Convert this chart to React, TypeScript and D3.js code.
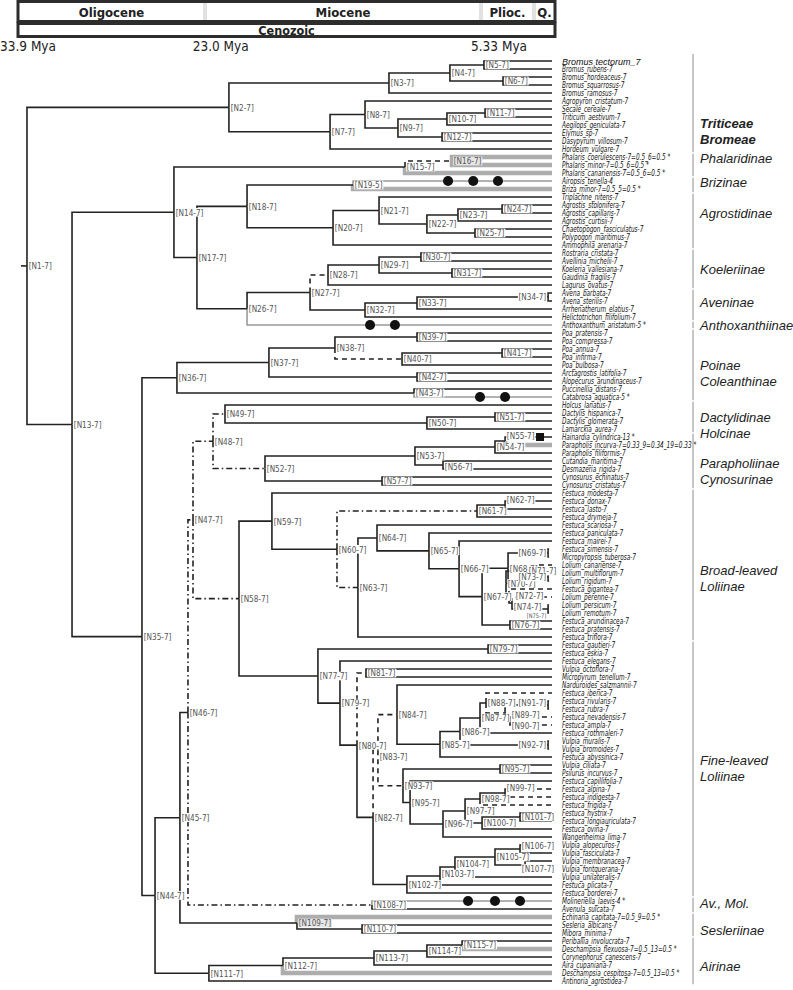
import React from "react";
import * as d3 from "d3";

// ---------- DATA ----------
const epochNames = ["Oligocene", "Miocene", "Plioc.", "Q."];
const epochBounds = [33.9, 23.0, 5.33, 2.58, 0];
const eraName = "Cenozoic";
const timeTicks = [33.9, 23.0, 5.33];

const leafNames = [
  "Bromus tectorum_7", "Bromus_rubens-7", "Bromus_hordeaceus-7", "Bromus_squarrosus-7", "Bromus_ramosus-7",
  "Agropyron_cristatum-7", "Secale_cereale-7", "Triticum_aestivum-7", "Aegilops_geniculata-7", "Elymus_sp-7",
  "Dasypyrum_villosum-7", "Hordeum_vulgare-7", "Phalaris_coerulescens-7=0.5_6=0.5 *", "Phalaris_minor-7=0.5_6=0.5 *",
  "Phalaris_canariensis-7=0.5_6=0.5 *", "Airopsis_tenella-4", "Briza_minor-7=0.5_5=0.5 *", "Triplachne_nitens-7",
  "Agrostis_stolonifera-7", "Agrostis_capillaris-7", "Agrostis_curtisii-7", "Chaetopogon_fasciculatus-7",
  "Polypogon_maritimus-7", "Ammophila_arenaria-7", "Rostraria_cristata-7", "Avellinia_michelii-7",
  "Koeleria_vallesiana-7", "Gaudinia_fragilis-7", "Lagurus_ovatus-7", "Avena_barbata-7", "Avena_sterilis-7",
  "Arrhenatherum_elatius-7", "Helictotrichon_filifolium-7", "Anthoxanthum_aristatum-5 *", "Poa_pratensis-7",
  "Poa_compressa-7", "Poa_annua-7", "Poa_infirma-7", "Poa_bulbosa-7", "Arctagrostis_latifolia-7",
  "Alopecurus_arundinaceus-7", "Puccinellia_distans-7", "Catabrosa_aquatica-5 *", "Holcus_lanatus-7",
  "Dactylis_hispanica-7", "Dactylis_glomerata-7", "Lamarckia_aurea-7", "Hainardia_cylindrica-13 *",
  "Parapholis_incurva-7=0.33_9=0.34_19=0.33 *", "Parapholis_filiformis-7", "Cutandia_maritima-7",
  "Desmazeria_rigida-7", "Cynosurus_echinatus-7", "Cynosurus_cristatus-7", "Festuca_modesta-7",
  "Festuca_donax-7", "Festuca_lasto-7", "Festuca_drymeja-7", "Festuca_scariosa-7", "Festuca_paniculata-7",
  "Festuca_mairei-7", "Festuca_simensis-7", "Micropyropsis_tuberosa-7", "Lolium_canariense-7",
  "Lolium_multiflorum-7", "Lolium_rigidum-7", "Festuca_gigantea-7", "Lolium_perenne-7", "Lolium_persicum-7",
  "Lolium_remotum-7", "Festuca_arundinacea-7", "Festuca_pratensis-7", "Festuca_triflora-7",
  "Festuca_gautieri-7", "Festuca_eskia-7", "Festuca_elegans-7", "Vulpia_octoflora-7", "Micropyrum_tenellum-7",
  "Narduroides_salzmannii-7", "Festuca_iberica-7", "Festuca_rivularis-7", "Festuca_rubra-7",
  "Festuca_nevadensis-7", "Festuca_ampla-7", "Festuca_rothmaleri-7", "Vulpia_muralis-7", "Vulpia_bromoides-7",
  "Festuca_abyssinica-7", "Vulpia_ciliata-7", "Psilurus_incurvus-7", "Festuca_capillifolia-7",
  "Festuca_alpina-7", "Festuca_indigesta-7", "Festuca_frigida-7", "Festuca_hystrix-7",
  "Festuca_longiauriculata-7", "Festuca_ovina-7", "Wangenheimia_lima-7", "Vulpia_alopecuros-7",
  "Vulpia_fasciculata-7", "Vulpia_membranacea-7", "Vulpia_fontquerana-7", "Vulpia_unilateralis-7",
  "Festuca_plicata-7", "Festuca_borderei-7", "Molineriella_laevis-4 *", "Avenula_sulcata-7",
  "Echinaria_capitata-7=0.5_9=0.5 *", "Sesleria_albicans-7", "Mibora_minima-7", "Periballia_involucrata-7",
  "Deschampsia_flexuosa-7=0.5_13=0.5 *", "Corynephorus_canescens-7", "Aira_cupaniana-7",
  "Deschampsia_cespitosa-7=0.5_13=0.5 *", "Antinoria_agrostidea-7",
];

const leafParents = [
  "N5", "N5", "N6", "N6", "N3", "N8", "N11", "N11", "N10", "N12", "N12", "N7",
  "N16", "N16", "N15", "N19", "N19", "N21", "N24", "N24", "N23", "N25", "N25", "N20",
  "N30", "N30", "N31", "N31", "N28", "N34", "N34", "N33", "N32", "N26",
  "N39", "N39", "N41", "N41", "N40", "N42", "N42", "N43", "N43",
  "N49", "N51", "N51", "N50", "N55", "N55", "N54", "N56", "N56", "N57", "N57",
  "N59", "N62", "N62", "N61", "N64", "N65", "N66", "N69", "N69", "N71", "N73", "N73", "N72", "N74", "N75", "N75", "N76", "N76", "N63",
  "N78", "N78", "N79", "N81", "N81", "N84", "N88", "N91", "N91", "N90", "N90", "N87", "N92", "N92", "N85",
  "N94", "N94", "N95", "N99", "N99", "N98", "N101", "N101", "N100", "N96",
  "N106", "N106", "N107", "N107", "N104", "N103", "N102",
  "N108", "N108", "N109", "N110", "N110", "N115", "N115", "N114", "N113", "N112", "N111",
];

// internal nodes: [id, parent, age (Mya)]
const nodeTable: [string, string | null, number][] = [
  ["N1", null, 33.33], ["N2", "N1", 20.51], ["N3", "N2", 10.35], ["N4", "N3", 6.48], ["N5", "N4", 4.32],
  ["N6", "N4", 3.11], ["N7", "N2", 14.09], ["N8", "N7", 11.87], ["N9", "N8", 9.78], ["N10", "N9", 6.67],
  ["N11", "N10", 4.25], ["N12", "N9", 6.98], ["N13", "N1", 30.47], ["N14", "N13", 24.0], ["N15", "N14", 9.33],
  ["N16", "N15", 6.35], ["N17", "N14", 22.54], ["N18", "N17", 19.36], ["N19", "N18", 12.63], ["N20", "N18", 13.9],
  ["N21", "N20", 10.98], ["N22", "N21", 7.94], ["N23", "N22", 5.97], ["N24", "N23", 3.17], ["N25", "N22", 4.89],
  ["N26", "N17", 19.36], ["N27", "N26", 15.36], ["N28", "N27", 14.22], ["N29", "N28", 10.98], ["N30", "N29", 8.32],
  ["N31", "N29", 6.35], ["N32", "N27", 11.87], ["N33", "N32", 8.57], ["N34", "N33", 0.25], ["N35", "N13", 26.03],
  ["N36", "N35", 23.81], ["N37", "N36", 17.97], ["N38", "N37", 13.78], ["N39", "N38", 8.57], ["N40", "N38", 9.52],
  ["N41", "N40", 3.17], ["N42", "N37", 8.57], ["N43", "N36", 8.76], ["N44", "N35", 25.2], ["N45", "N44", 23.62],
  ["N46", "N45", 23.11], ["N47", "N46", 22.79], ["N48", "N47", 21.52], ["N49", "N48", 20.76], ["N50", "N49", 7.94],
  ["N51", "N50", 3.62], ["N52", "N48", 18.22], ["N53", "N52", 8.7], ["N54", "N53", 3.62], ["N55", "N54", 2.98],
  ["N56", "N53", 6.92], ["N57", "N52", 10.79], ["N58", "N47", 19.87], ["N59", "N58", 17.78], ["N60", "N59", 13.65],
  ["N61", "N60", 4.76], ["N62", "N61", 2.98], ["N63", "N60", 12.32], ["N64", "N63", 11.11], ["N65", "N64", 7.81],
  ["N66", "N65", 5.9], ["N67", "N66", 4.44], ["N68", "N67", 2.79], ["N69", "N68", 0.25], ["N70", "N68", 2.92],
  ["N71", "N70", 1.59], ["N73", "N71", 0.25], ["N72", "N70", 2.73], ["N74", "N72", 2.54], ["N75", "N74", 0.25],
  ["N76", "N67", 2.67], ["N77", "N58", 14.86], ["N78", "N77", 4.06], ["N79", "N77", 13.46], ["N80", "N79", 12.38],
  ["N81", "N80", 11.81], ["N82", "N80", 11.36], ["N83", "N82", 11.05], ["N84", "N83", 9.84], ["N85", "N84", 7.11],
  ["N86", "N85", 5.84], ["N87", "N86", 4.57], ["N88", "N87", 4.19], ["N89", "N88", 2.98], ["N90", "N89", 2.67],
  ["N91", "N89", 0.25], ["N92", "N86", 0.25], ["N93", "N83", 9.46], ["N94", "N93", 3.3], ["N95", "N93", 9.01],
  ["N96", "N95", 6.92], ["N97", "N96", 5.52], ["N98", "N97", 4.57], ["N99", "N98", 2.98], ["N100", "N97", 4.44],
  ["N101", "N100", 2.03], ["N102", "N82", 9.21], ["N103", "N102", 7.11], ["N104", "N103", 6.16], ["N105", "N104", 3.62],
  ["N106", "N105", 2.03], ["N107", "N105", 1.71], ["N108", "N46", 11.43], ["N109", "N45", 16.19], ["N110", "N109", 12.06],
  ["N111", "N44", 21.78], ["N112", "N111", 17.08], ["N113", "N112", 11.3], ["N114", "N113", 7.94], ["N115", "N114", 5.71],
];
const nodeLabelOverrides: Record<string, string> = { N19: "[N19-5]", N78: "[N79-7]", N94: "[N95-7]" };

// branch styles (branch leading to the node / leaf)
const greyThickLeaves = [12, 13, 14, 16, 48, 107, 111, 114];
const greyLeaves = [15, 33, 42, 105];
const dashedLeaves = [61, 62, 63, 64, 65, 66, 67, 68, 69, 79, 80, 81, 82, 83, 85, 86, 91, 92, 93];
const dashedNodes = ["N16", "N28", "N40", "N81", "N83", "N84", "N93", "N89"];
const dashDotNodes = ["N47", "N48", "N49", "N52", "N58", "N108", "N61", "N63"];
const greyBoxNodes = ["N16", "N109"];

// chromosome-number change events on terminal branches: [leaf index, age]
const circleEvents: [number, number][] = [
  [15, 6.6], [15, 5.0], [15, 3.43], [33, 11.55], [33, 9.97], [42, 4.57], [42, 2.98],
  [105, 5.33], [105, 3.62], [105, 2.03],
];
const squareEvents: [number, number][] = [[47, 0.76]];

const groupLines = [
  ["Triticeae", "Bromeae"], ["Phalaridinae"], ["Brizinae"], ["Agrostidinae"], ["Koeleriinae"], ["Aveninae"],
  ["Anthoxanthiinae"], ["Poinae", "Coleanthinae"], ["Dactylidinae", "Holcinae"], ["Parapholiinae", "Cynosurinae"],
  ["Broad-leaved", "Loliinae"], ["Fine-leaved", "Loliinae"], ["Av., Mol."], ["Sesleriinae"], ["Airinae"],
];
const groupFirst = [0, 12, 15, 17, 24, 29, 33, 34, 43, 47, 54, 73, 105, 107, 110];
const groupLast = [11, 14, 16, 23, 28, 32, 33, 42, 46, 53, 72, 104, 106, 109, 115];

// ---------- LAYOUT ----------
const W = 793, H = 990;
const xTree = d3.scaleLinear().domain([33.9, 0]).range([18, 552]);
const yLeaf = d3.scaleLinear().domain([0, leafNames.length - 1]).range([61, 981]);
const xHeader = d3.scaleLinear().domain(epochBounds).range([18, 205, 481, 534, 555]);
// vertical nudges of the group captions (layout only)
const groupLabelDy = [18, -7, -3, -8, 0, -3, 0, 0, 0, 2, 5, -9, -2, 5, 5];

const NARROW = '"Liberation Sans Narrow", "Arial Narrow", "DejaVu Sans Condensed", sans-serif';
const SANS = '"Liberation Sans", Arial, sans-serif';

let measureCtx: CanvasRenderingContext2D | null = null;
function measure(text: string, font: string): number {
  if (!measureCtx) measureCtx = document.createElement("canvas").getContext("2d");
  if (!measureCtx) return text.length * 4.5;
  measureCtx.font = font;
  return measureCtx.measureText(text).width;
}

type Row = { id: string; parent: string | null };

export default function App() {
  const rows: Row[] = [
    ...nodeTable.map(([id, parent]) => ({ id, parent })),
    ...leafNames.map((_, i) => ({ id: `L${i}`, parent: leafParents[i] })),
  ];
  const root = d3.stratify<Row>().id((d) => d.id).parentId((d) => d.parent)(rows);
  const ageById = new Map(nodeTable.map(([id, , age]) => [id, age]));
  const pos = new Map<string, { x: number; y: number }>();
  root.eachAfter((n) => {
    const id = n.id as string;
    if (!n.children) {
      pos.set(id, { x: xTree(0), y: yLeaf(+id.slice(1)) });
    } else {
      const ys = n.children.map((c) => pos.get(c.id as string)!.y);
      pos.set(id, { x: xTree(ageById.get(id)!), y: ((d3.min(ys) as number) + (d3.max(ys) as number)) / 2 });
    }
  });

  const styleOf = (id: string): string => {
    if (id.startsWith("L")) {
      const i = +id.slice(1);
      if (greyThickLeaves.includes(i)) return "G";
      if (greyLeaves.includes(i)) return "g";
      if (dashedLeaves.includes(i)) return "d";
      return "s";
    }
    if (dashedNodes.includes(id)) return "d";
    if (dashDotNodes.includes(id)) return "dd";
    return "s";
  };

  const edges = root.descendants().filter((n) => n.parent).map((n) => {
    const p = pos.get(n.parent!.id as string)!;
    const c = pos.get(n.id as string)!;
    return { id: n.id as string, d: `M${p.x},${p.y}V${c.y}H${c.x}`, style: styleOf(n.id as string) };
  });
  const order = { G: 0, g: 1, s: 2, d: 2, dd: 2 } as Record<string, number>;
  edges.sort((a, b) => order[a.style] - order[b.style]);

  const edgeAttrs = (s: string) => {
    switch (s) {
      case "G": return { stroke: "#adadad", strokeWidth: 4.5 };
      case "g": return { stroke: "#9a9a9a", strokeWidth: 1.6 };
      case "d": return { stroke: "#222", strokeWidth: 1.6, strokeDasharray: "5,4" };
      case "dd": return { stroke: "#222", strokeWidth: 1.6, strokeDasharray: "6,3,1.5,3" };
      default: return { stroke: "#222", strokeWidth: 1.6 };
    }
  };

  const rootPos = pos.get("N1")!;
  const NODE_FS = 9, NODE_SX = 0.9;
  const LEAF_FS = 8, LEAF_SX = 0.8;

  // node label boxes with a greedy de-overlap: small nudges, then a smaller size if still crowded
  const internal = root.descendants().filter((n) => n.children)
    .map((n) => n.id as string)
    .sort((a, b) => pos.get(a)!.x - pos.get(b)!.x);
  const placed: { x0: number; x1: number; y0: number; y1: number }[] = [];
  const yCands = [0, -2, 2, -3.5, 3.5, -5, 5, -6.5, 6.5, -8, 8];
  const labelBoxes = internal.map((id) => {
    const p = pos.get(id)!;
    const label = nodeLabelOverrides[id] ?? `[${id}-7]`;
    const right = p.x > 540;
    for (const k of [1, 0.82, 0.7]) {
      const fs = NODE_FS * k;
      const tw = measure(label, `${fs}px ${NARROW}`) * NODE_SX;
      const w = tw + 1.5;
      const baseX = right ? p.x - 1 - w : p.x + 1.2;
      const hh = 5.2 * k;
      for (const cx of [0, -5, 5]) {
        for (const cand of yCands) {
          const x0 = baseX + cx;
          if (x0 + w > 560) continue;
          const ok = placed.every((b) => x0 + w <= b.x0 || x0 >= b.x1 || p.y + cand + hh <= b.y0 || p.y + cand - hh >= b.y1);
          if (ok) {
            placed.push({ x0, x1: x0 + w, y0: p.y + cand - hh, y1: p.y + cand + hh });
            return { id, label, tw, w, x0, y: p.y + cand, fs, grey: greyBoxNodes.includes(id) };
          }
        }
      }
    }
    const tw = measure(label, `${NODE_FS}px ${NARROW}`) * NODE_SX;
    const w = tw + 1.5;
    const x0 = right ? p.x - 1 - w : p.x + 1.2;
    placed.push({ x0, x1: x0 + w, y0: p.y - 4.6, y1: p.y + 4.6 });
    return { id, label, tw, w, x0, y: p.y, fs: NODE_FS, grey: greyBoxNodes.includes(id) };
  });

  return (
    <svg width={W} height={H} style={{ position: "absolute", left: 0, top: 0, background: "#fff" }}>
      {/* header */}
      <g>
        <rect x={18} y={1.5} width={537} height={20} fill="#fff" stroke="#2d2d2d" strokeWidth={3} />
        <rect x={18} y={23.5} width={537} height={13} fill="#fff" stroke="#2d2d2d" strokeWidth={3} />
        {epochBounds.slice(1, -1).map((b, i) => (
          <g key={i}>
            <line x1={xHeader(b) - 1} x2={xHeader(b) - 1} y1={3} y2={20} stroke="#b5b5b5" strokeWidth={0.8} />
            <line x1={xHeader(b) + 1} x2={xHeader(b) + 1} y1={3} y2={20} stroke="#b5b5b5" strokeWidth={0.8} />
          </g>
        ))}
        {epochNames.map((n, i) => (
          <text key={n} x={(xHeader(epochBounds[i]) + xHeader(epochBounds[i + 1])) / 2} y={12}
            textAnchor="middle" dominantBaseline="central" fontFamily={NARROW} fontWeight="bold" fontSize={13} fill="#222">
            {n}
          </text>
        ))}
        <text x={(xHeader(epochBounds[0]) + xHeader(0)) / 2} y={30.5} textAnchor="middle" dominantBaseline="central"
          fontFamily={NARROW} fontWeight="bold" fontSize={12.5} fill="#222">{eraName}</text>
        {timeTicks.map((t, i) => (
          <text key={t} x={i === 0 ? 0 : xTree(t) + 3} y={46} dominantBaseline="central"
            fontFamily={NARROW} fontSize={13.5} fill="#222">{`${t.toFixed(t < 10 ? 2 : 1)} Mya`}</text>
        ))}
      </g>

      {/* group separators and labels */}
      {groupLines.map((lines, gi) => {
        const y0 = gi === 0 ? 54 : yLeaf(groupFirst[gi]) - 3.2;
        const y1 = yLeaf(groupLast[gi]) + 3.2;
        const mid = (yLeaf(groupFirst[gi]) + yLeaf(groupLast[gi])) / 2 + groupLabelDy[gi];
        return (
          <g key={gi}>
            <line x1={693} x2={693} y1={y0} y2={y1} stroke="#b3b3b3" strokeWidth={1.5} />
            {lines.map((l, li) => (
              <text key={li} x={700} y={mid + li * 16} dominantBaseline="central"
                fontFamily={SANS} fontStyle="italic" fontWeight={gi === 0 ? "bold" : "normal"} fontSize={13} fill="#222">
                {l}
              </text>
            ))}
          </g>
        );
      })}

      {/* tree */}
      <line x1={rootPos.x - 6} x2={rootPos.x} y1={rootPos.y} y2={rootPos.y} stroke="#222" strokeWidth={1.6} />
      {edges.map((e) => (
        <path key={e.id} d={e.d} fill="none" {...edgeAttrs(e.style)} />
      ))}

      {/* node labels */}
      {labelBoxes.map((b) => (
        <g key={b.id}>
          <rect x={b.x0} y={b.y - b.fs * 0.48} width={b.w} height={b.fs * 0.96} fill={b.grey ? "#e6e6e6" : "#fff"} />
          <text x={b.x0 + 0.6} y={b.y + 0.4} textLength={b.tw} lengthAdjust="spacingAndGlyphs"
            dominantBaseline="central" fontFamily={NARROW} fontSize={b.fs} fill="#555">{b.label}</text>
        </g>
      ))}

      {/* events */}
      {circleEvents.map(([li, age], i) => (
        <circle key={i} cx={xTree(age)} cy={yLeaf(li)} r={5} fill="#111" />
      ))}
      {squareEvents.map(([li, age], i) => (
        <rect key={i} x={xTree(age) - 4} y={yLeaf(li) - 4} width={8} height={8} fill="#111" />
      ))}

      {/* leaf labels */}
      {leafNames.map((name, i) => {
        const fam = i === 0 ? SANS : NARROW;
        const fs = i === 0 ? 9 : LEAF_FS;
        const sx = i === 0 ? 1 : LEAF_SX;
        const tw = measure(name, `italic ${fs}px ${fam}`) * sx;
        return (
          <text key={i} x={562} y={yLeaf(i) + 0.5} textLength={tw} lengthAdjust="spacingAndGlyphs"
            dominantBaseline="central" fontFamily={fam} fontStyle="italic" fontSize={fs} fill="#111">
            {name}
          </text>
        );
      })}
    </svg>
  );
}
